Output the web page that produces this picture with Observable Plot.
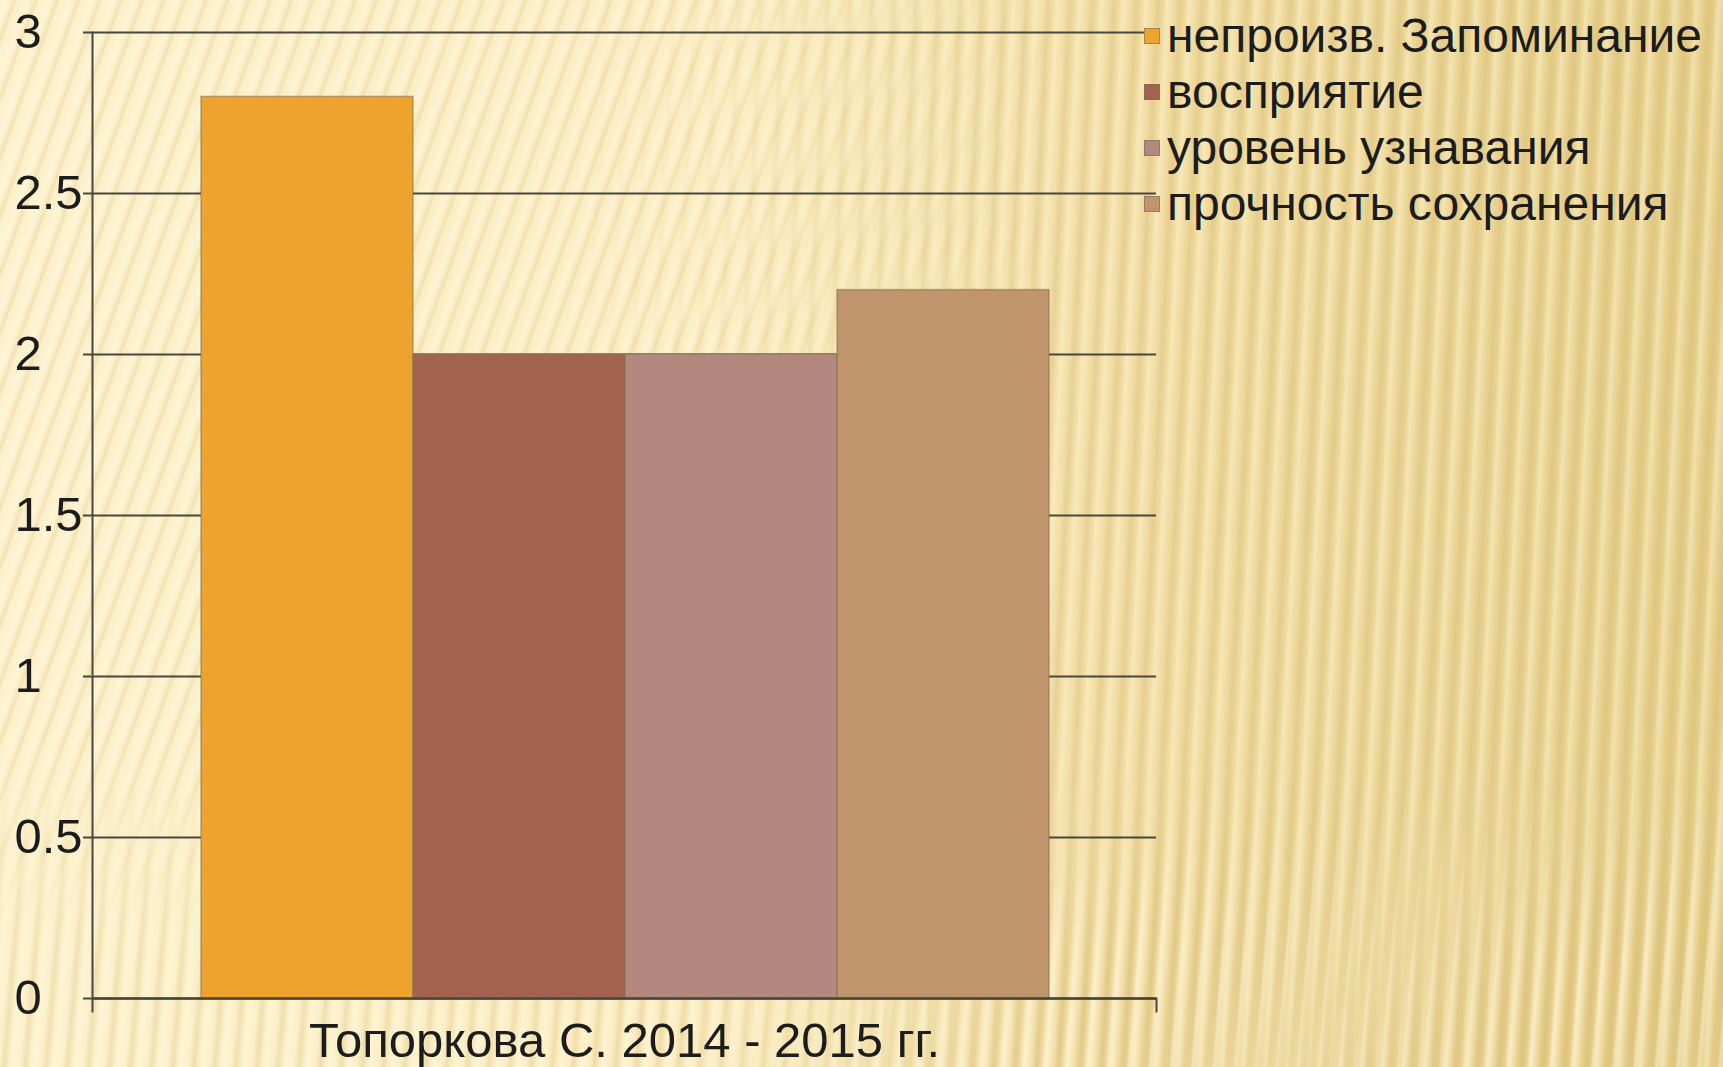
<!DOCTYPE html>
<html>
<head>
<meta charset="utf-8">
<script src="https://cdn.jsdelivr.net/npm/d3@7"></script>
<script src="https://cdn.jsdelivr.net/npm/@observablehq/plot@0.6"></script>
<style>
  html, body { margin: 0; padding: 0; }
  #wrap { position: relative; width: 1723px; height: 1067px; overflow: hidden; font-family: "Liberation Sans", Arial, sans-serif; }
  .layer { position: absolute; left: 0; top: 0; width: 1723px; height: 1067px; }
  #bg { background: linear-gradient(90deg, #FCF1CC 0%, #FBEDC2 42%, #F0DBA0 66%, #E5CD88 100%); }
  #diag {
    background: repeating-linear-gradient(110deg,
      rgba(255,255,255,0) 0px, rgba(255,252,235,0.4) 6px, rgba(255,255,255,0) 10px,
      rgba(220,190,115,0.28) 14px, rgba(255,255,255,0) 17px, rgba(255,255,255,0) 20px);
    -webkit-mask-image: linear-gradient(180deg, #000 0%, #000 70%, transparent 88%);
    mask-image: linear-gradient(180deg, #000 0%, #000 70%, transparent 88%);
  }
  #diagmask { -webkit-mask-image: linear-gradient(90deg, #000 0%, #000 38%, transparent 64%); mask-image: linear-gradient(90deg, #000 0%, #000 38%, transparent 64%); }
  #vert {
    background: repeating-linear-gradient(93deg,
      rgba(255,248,215,0.45) 0px, rgba(255,248,215,0.0) 8px,
      rgba(205,175,100,0.28) 13px, rgba(255,248,215,0.0) 18px, rgba(255,248,215,0.45) 22px);
    -webkit-mask-image: linear-gradient(90deg, transparent 32%, #000 60%);
    mask-image: linear-gradient(90deg, transparent 32%, #000 60%);
  }
  #vertbottom {
    background: repeating-linear-gradient(95deg,
      rgba(255,250,225,0.45) 0px, rgba(255,250,225,0.0) 8px,
      rgba(215,185,110,0.30) 13px, rgba(255,250,225,0.0) 18px, rgba(255,250,225,0.45) 21px);
    -webkit-mask-image: linear-gradient(180deg, transparent 72%, #000 90%);
    mask-image: linear-gradient(180deg, transparent 72%, #000 90%);
  }
  #chart { position: absolute; left: 0; top: 0; }
  #legend { position: absolute; left: 1144px; top: 8px; font-size: 48px; line-height: 56px; color: #1c1c1c; white-space: nowrap; }
  #legend .row { display: flex; align-items: center; height: 56px; }
  #legend .sw { width: 16px; height: 16px; margin-right: 7px; border: 1px solid rgba(120,110,90,0.6); box-sizing: border-box; flex: none; }
</style>
</head>
<body>
<div id="wrap">
  <div class="layer" id="bg"></div>
  <div class="layer" id="diagmask"><div class="layer" id="diag"></div></div>
  <div class="layer" id="vert"></div>
  <div class="layer" id="vertbottom"></div>
  <div id="chart"></div>
  <div id="legend"></div>
</div>
<script>
const series = ["непроизв. Запоминание", "восприятие", "уровень узнавания", "прочность сохранения"];
const values = [2.8, 2.0, 2.0, 2.2];
const colors = ["#EEA32E", "#A26350", "#B3897F", "#C1956C"];
const category = "Топоркова С. 2014 - 2015 гг.";
const yTicks = [0, 0.5, 1, 1.5, 2, 2.5, 3];

const data = series.map((s, i) => ({series: s, value: values[i]}));

const W = 1723, H = 1067;
const mL = 92, mR = 567, mT = 32, mB = 69;
const frameH = H - mT - mB;

const chart = Plot.plot({
  width: W,
  height: H,
  marginLeft: mL,
  marginRight: mR,
  marginTop: mT,
  marginBottom: mB,
  style: {background: "transparent", fontFamily: "'Liberation Sans', Arial, sans-serif", color: "#1c1c1c", overflow: "visible"},
  x: {domain: series, padding: 0, insetLeft: 107, insetRight: 106, axis: null},
  y: {domain: [0, 3], axis: null},
  color: {domain: series, range: colors},
  marks: [
    Plot.gridY(yTicks, {stroke: "#48463f", strokeOpacity: 1, strokeWidth: 2}),
    Plot.barY(data, {x: "series", y: "value", fill: "series", stroke: "#7d6d57", strokeOpacity: 0.55, strokeWidth: 1.5}),
    Plot.axisY(yTicks, {label: null, tickSize: 9, tickPadding: 69, textAnchor: "start", fontSize: 49, stroke: "#48463f", strokeWidth: 2, tickFormat: d => String(d)}),
    Plot.ruleY([0], {stroke: "#48463f", strokeWidth: 2.5}),
    Plot.frame({anchor: "left", insetBottom: -13, stroke: "#48463f", strokeWidth: 2}),
    Plot.frame({anchor: "right", insetTop: frameH, insetBottom: -13, stroke: "#48463f", strokeWidth: 2}),
    Plot.text([category], {frameAnchor: "bottom", dy: 58, fontSize: 49, fill: "#1c1c1c"})
  ]
});
document.getElementById("chart").appendChild(chart);

const legend = document.getElementById("legend");
series.forEach((s, i) => {
  const row = document.createElement("div");
  row.className = "row";
  const sw = document.createElement("span");
  sw.className = "sw";
  sw.style.background = colors[i];
  const t = document.createElement("span");
  t.textContent = s;
  row.appendChild(sw);
  row.appendChild(t);
  legend.appendChild(row);
});
</script>
</body>
</html>
